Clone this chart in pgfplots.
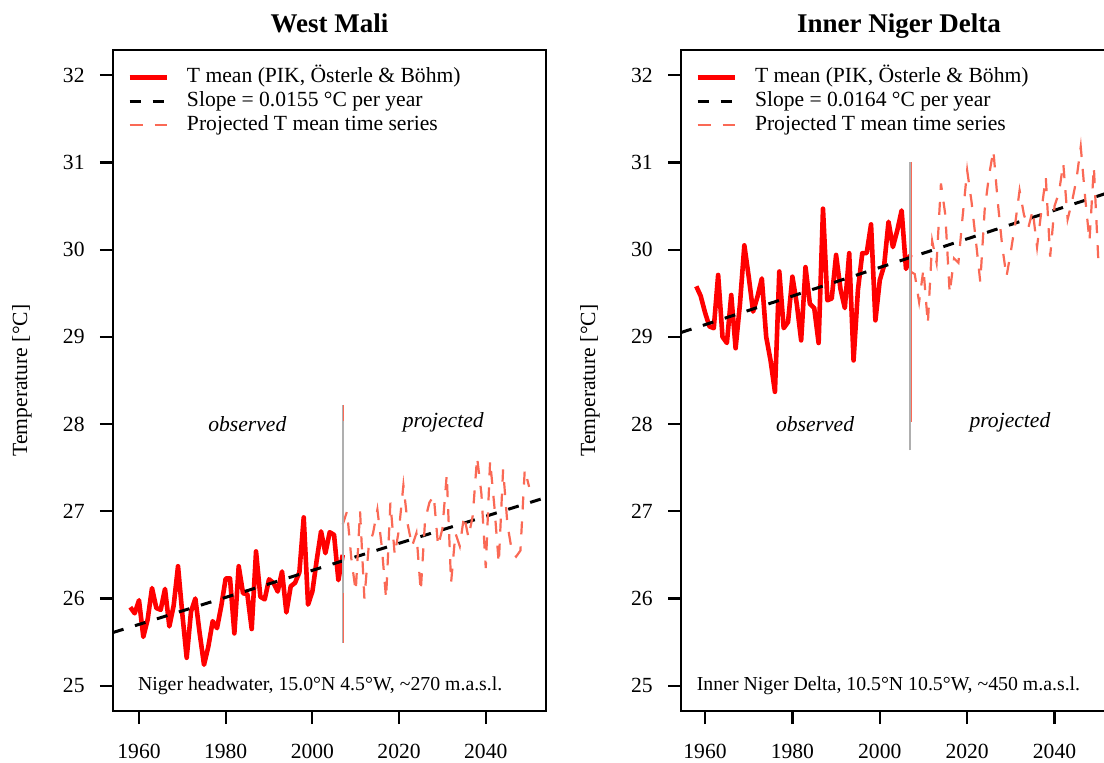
\documentclass[border=0pt]{standalone}
\usepackage{fontspec}
\setmainfont{Liberation Serif}
\usepackage{pgfplots}
\pgfplotsset{compat=1.18}
\definecolor{proj}{RGB}{250,105,85}
\definecolor{sepgray}{RGB}{175,175,175}
\pgfplotsset{
  panel/.style={
    scale only axis, height=330.5pt,
    ymin=24.71, ymax=32.29,
    axis line style={line width=1.2pt},
    every tick/.style={black, line width=1.1pt},
    tick align=outside, major tick length=6.5pt,
    xtick={1960,1980,2000,2020,2040}, ytick={25,26,27,28,29,30,31,32},
    xtick pos=bottom, ytick pos=left,
    /pgf/number format/assume math mode=true,
    /pgf/number format/1000 sep={},
    tick label style={font=\fontsize{10.8}{12}\selectfont, inner sep=0pt},
    xticklabel style={anchor=north, yshift=-10pt},
    yticklabel style={anchor=east, xshift=-7.5pt},
    every axis title/.style={at={(0.5,1)}, anchor=base, yshift=8.5pt, font=\fontsize{13.5}{15}\selectfont\bfseries},
    every axis y label/.style={rotate=90, anchor=center, font=\fontsize{10.8}{12}\selectfont},
    legend style={draw=none, fill=none, inner sep=0pt, at={(rel axis cs:0,1)}, anchor=north west,
      xshift=7pt, yshift=-8.5pt, font=\fontsize{10.8}{12}\selectfont, row sep=2pt,
      nodes={inner sep=0pt, text height=7.5pt, text depth=2.5pt}},
    legend cell align=left,
    legend image code/.code={\draw[##1] (0pt,0pt) -- (18.5pt,0pt); \path (27.5pt,0pt);},
  },
  obs/.style={red, line width=2.3pt, line join=round},
  trend/.style={black, line width=1.5pt, dash pattern=on 5.5pt off 6pt},
  projs/.style={proj, line width=1.1pt, dash pattern=on 6.5pt off 6pt},
}
\begin{document}
\begin{tikzpicture}
\useasboundingbox (0,0) rectangle (552pt,381pt);
\clip (0,0) rectangle (552pt,381pt);
% ---------------- West Mali ----------------
\begin{axis}[panel, at={(56.5pt,25.5pt)}, anchor=south west, width=216.5pt,
  xmin=1954, xmax=2053.9, title={West Mali},
  ylabel={Temperature [°C]},
  ylabel style={at={(axis description cs:-0.2102,0.5)}}]
\addplot[obs] coordinates {(1958,25.90)(1959,25.83)(1960,25.98)(1961,25.56)(1962,25.76)(1963,26.12)(1964,25.89)(1965,25.87)(1966,26.11)(1967,25.68)(1968,25.92)(1969,26.37)(1970,25.82)(1971,25.32)(1972,25.85)(1973,26.00)(1974,25.60)(1975,25.24)(1976,25.45)(1977,25.74)(1978,25.66)(1979,25.92)(1980,26.23)(1981,26.23)(1982,25.60)(1983,26.37)(1984,26.06)(1985,26.05)(1986,25.65)(1987,26.54)(1988,26.02)(1989,25.99)(1990,26.22)(1991,26.18)(1992,26.08)(1993,26.31)(1994,25.84)(1995,26.14)(1996,26.18)(1997,26.30)(1998,26.93)(1999,25.93)(2000,26.08)(2001,26.44)(2002,26.77)(2003,26.52)(2004,26.76)(2005,26.73)(2006,26.21)(2007,26.50)};
\addlegendentry{T mean (PIK, Österle \& Böhm)}
\addplot[trend] coordinates {(1954,25.61)(2054,27.16)};
\addlegendentry{Slope = 0.0155 °C per year}
\addplot[projs] coordinates {(2007,26.85)(2008,27.00)(2009,26.45)(2010,26.08)(2011,27.00)(2012,26.00)(2013,26.60)(2014,26.75)(2015,27.02)(2016,26.60)(2017,26.00)(2018,27.10)(2019,26.50)(2020,26.80)(2021,27.30)(2022,26.85)(2023,26.60)(2024,26.75)(2025,26.08)(2026,26.90)(2027,27.10)(2028,27.18)(2029,26.60)(2030,26.80)(2031,27.42)(2032,26.18)(2033,26.75)(2034,26.60)(2035,26.95)(2036,26.70)(2037,26.95)(2038,27.62)(2039,27.20)(2040,26.35)(2041,27.58)(2042,27.05)(2043,26.40)(2044,27.48)(2045,26.85)(2046,26.55)(2047,26.48)(2048,26.55)(2049,27.48)(2050,27.28)};
\addlegendentry{Projected T mean time series}
\addplot[forget plot, sepgray, line width=1pt] coordinates {(2007,25.49)(2007,28.22)};
\addplot[forget plot, proj, line width=0.8pt] coordinates {(2007.2,28.22)(2007.2,28.03)};
\addplot[forget plot, proj, line width=0.8pt] coordinates {(2007.2,26.06)(2007.2,25.49)};
\node[font=\fontsize{10.8}{12}\selectfont\itshape] at (axis cs:1985,28.0) {observed};
\node[font=\fontsize{10.8}{12}\selectfont\itshape] at (axis cs:2030.2,28.02) {projected};
\node[font=\fontsize{9.9}{11}\selectfont] at (axis cs:2001.8,25.0) {Niger headwater, 15.0°N 4.5°W, \textasciitilde270 m.a.s.l.};
\end{axis}
% ---------------- Inner Niger Delta ----------------
\begin{axis}[panel, at={(340.5pt,25.5pt)}, anchor=south west, width=218pt,
  xmin=1954.5, xmax=2054.3, title={Inner Niger Delta},
  ylabel={Temperature [°C]},
  ylabel style={at={(axis description cs:-0.2087,0.5)}}]
\addplot[obs] coordinates {(1958,29.58)(1959,29.47)(1960,29.28)(1961,29.12)(1962,29.10)(1963,29.71)(1964,29.00)(1965,28.93)(1966,29.48)(1967,28.87)(1968,29.38)(1969,30.05)(1970,29.69)(1971,29.29)(1972,29.46)(1973,29.67)(1974,29.00)(1975,28.73)(1976,28.37)(1977,29.75)(1978,29.10)(1979,29.17)(1980,29.69)(1981,29.38)(1982,28.96)(1983,29.80)(1984,29.38)(1985,29.33)(1986,28.93)(1987,30.47)(1988,29.42)(1989,29.44)(1990,29.94)(1991,29.55)(1992,29.33)(1993,29.96)(1994,28.73)(1995,29.54)(1996,29.96)(1997,29.96)(1998,30.29)(1999,29.19)(2000,29.65)(2001,29.82)(2002,30.32)(2003,30.03)(2004,30.22)(2005,30.45)(2006,29.78)(2007,29.94)};
\addlegendentry{T mean (PIK, Österle \& Böhm)}
\addplot[trend] coordinates {(1954.5,29.05)(2054.5,30.69)};
\addlegendentry{Slope = 0.0164 °C per year}
\addplot[projs] coordinates {(2007,29.75)(2008,29.72)(2009,29.40)(2010,29.78)(2011,29.15)(2012,30.10)(2013,29.85)(2014,30.76)(2015,30.40)(2016,29.50)(2017,29.90)(2018,29.85)(2019,30.40)(2020,30.91)(2021,30.55)(2022,30.10)(2023,29.63)(2024,30.45)(2025,30.85)(2026,31.14)(2027,30.55)(2028,30.05)(2029,29.69)(2030,29.98)(2031,30.30)(2032,30.68)(2033,30.40)(2034,30.25)(2035,30.45)(2036,30.03)(2037,30.45)(2038,30.83)(2039,29.92)(2040,30.50)(2041,30.65)(2042,30.99)(2043,30.35)(2044,30.55)(2045,30.80)(2046,31.18)(2047,30.60)(2048,30.10)(2049,30.95)(2050,29.90)};
\addlegendentry{Projected T mean time series}
\addplot[forget plot, sepgray, line width=1pt] coordinates {(2007,27.70)(2007,31.00)};
\addplot[forget plot, proj, line width=0.8pt] coordinates {(2007.3,31.00)(2007.3,28.02)};
\node[font=\fontsize{10.8}{12}\selectfont\itshape] at (axis cs:1985.2,28.0) {observed};
\node[font=\fontsize{10.8}{12}\selectfont\itshape] at (axis cs:2029.8,28.02) {projected};
\node[font=\fontsize{9.9}{11}\selectfont] at (axis cs:2002.0,25.0) {Inner Niger Delta, 10.5°N 10.5°W, \textasciitilde450 m.a.s.l.};
\end{axis}
\end{tikzpicture}
\end{document}
